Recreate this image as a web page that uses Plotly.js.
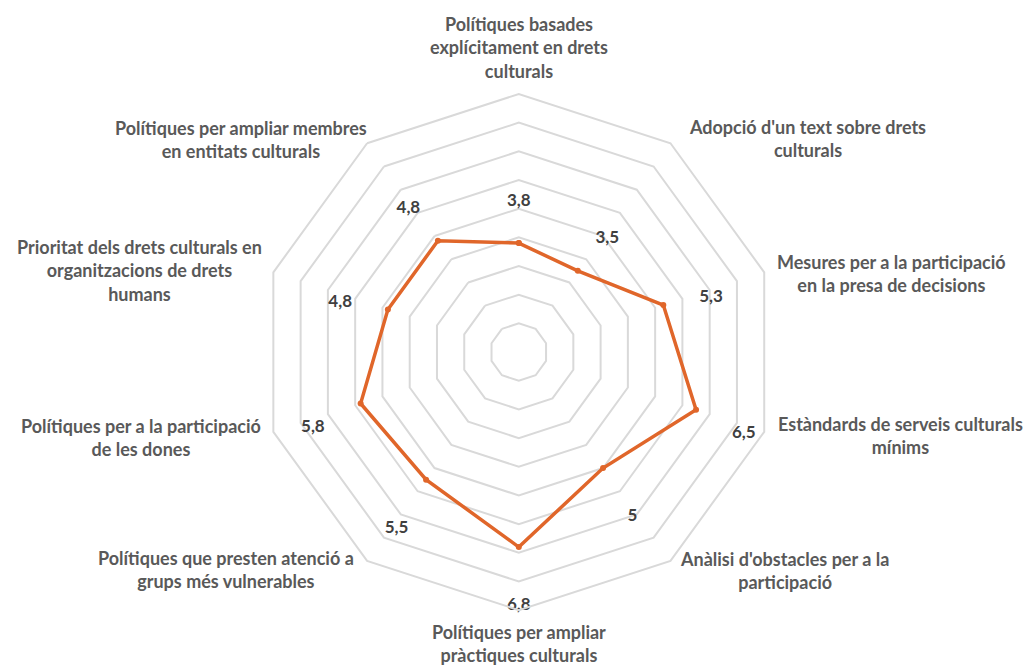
<!DOCTYPE html>
<html>
<head>
<meta charset="utf-8">
<script src="https://cdn.plot.ly/plotly-3.0.1.min.js"></script>
<style>html,body{margin:0;padding:0;background:#fff;}#chart{width:1027px;height:669px;}</style>
</head>
<body>
<div id="chart"></div>
<script>
// ---- data ----
const categories = [
  "Polítiques basades<br>explícitament en drets<br>culturals",
  "Adopció d'un text sobre drets<br>culturals",
  "Mesures per a la participació<br>en la presa de decisions",
  "Estàndards de serveis culturals<br>mínims",
  "Anàlisi d'obstacles per a la<br>participació",
  "Polítiques per ampliar<br>pràctiques culturals",
  "Polítiques que presten atenció a<br>grups més vulnerables",
  "Polítiques per a la participació<br>de les dones",
  "Prioritat dels drets culturals en<br>organitzacions de drets<br>humans",
  "Polítiques per ampliar membres<br>en entitats culturals"
];
const values = [3.8, 3.5, 5.3, 6.5, 5, 6.8, 5.5, 5.8, 4.8, 4.8];
const radialMax = 9;

// ---- layout helpers (label placement, paper coords) ----
const labelPos = [
  [519, 47], [807, 138], [891, 274], [900, 435], [784, 570],
  [519, 643], [226, 569], [141, 437], [139, 270], [241, 139]
];
const W = 1027, H = 669;
const ids = categories.map((c, i) => 'c' + i);

const theta = ids.concat([ids[0]]);
const r = values.concat([values[0]]);
const labelOffset = 1.75;

const traces = [
  {
    type: 'scatterpolar', mode: 'lines+markers',
    r: r, theta: theta,
    line: {color: '#E0662A', width: 3.5},
    marker: {color: '#E0662A', size: 6},
    hoverinfo: 'none', showlegend: false
  },
  {
    type: 'scatterpolar', mode: 'text',
    r: values.map(v => v + labelOffset), theta: ids,
    text: values.map(v => String(v).replace('.', ',')),
    textposition: 'bottom center',
    textfont: {family: 'Lato, sans-serif', size: 17, color: '#404040', weight: 'bold'},
    cliponaxis: false,
    hoverinfo: 'none', showlegend: false
  }
];

const annotations = categories.map((c, i) => ({
  xref: 'paper', yref: 'paper',
  x: labelPos[i][0] / W, y: 1 - labelPos[i][1] / H,
  xanchor: 'center', yanchor: 'middle', align: 'center',
  text: c, showarrow: false,
  font: {family: 'Lato, sans-serif', size: 18, color: '#595959', weight: 'bold'}
}));

const layout = {
  width: W, height: H,
  margin: {l: 0, r: 0, t: 0, b: 0},
  paper_bgcolor: '#fff', plot_bgcolor: '#fff',
  showlegend: false,
  annotations: annotations,
  polar: {
    domain: {x: [0.2537, 0.7566], y: [0.088, 0.8595]},
    bgcolor: '#fff',
    gridshape: 'linear',
    angularaxis: {
      type: 'category', categoryarray: ids, rotation: 90, direction: 'clockwise',
      showticklabels: false, ticks: '', showgrid: false,
      showline: true, linecolor: '#d9d9d9', linewidth: 2
    },
    radialaxis: {
      range: [0, radialMax], dtick: 1, tick0: 0,
      showticklabels: false, ticks: '', showline: false,
      showgrid: true, gridcolor: '#d9d9d9', gridwidth: 2
    }
  }
};

Plotly.newPlot('chart', traces, layout, {staticPlot: true, displayModeBar: false});
</script>
</body>
</html>
